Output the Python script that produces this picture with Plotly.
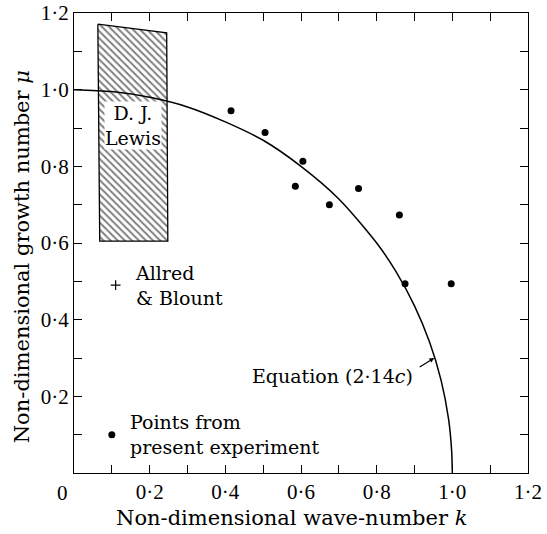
import plotly.graph_objects as go

# Experimental points (k, mu)
exp_k = [0.415, 0.505, 0.605, 0.585, 0.675, 0.752, 0.86, 0.875, 0.997]
exp_mu = [0.945, 0.888, 0.813, 0.748, 0.700, 0.742, 0.673, 0.494, 0.494]

# Equation (2.14c) curve
curve_k = [0.0, 0.1, 0.2, 0.3, 0.4, 0.5, 0.6, 0.7, 0.8, 0.85, 0.9, 0.94, 0.97, 0.99, 0.998, 1.0]
curve_mu = [1.0, 0.995, 0.98, 0.955, 0.916, 0.868, 0.80, 0.715, 0.60, 0.527, 0.436, 0.341, 0.243, 0.141, 0.06, 0.0]

# D. J. Lewis hatched region (corners)
lewis_k = [0.063, 0.245, 0.248, 0.068, 0.063]
lewis_mu = [1.171, 1.148, 0.605, 0.605, 1.171]

# Allred & Blount
allred_k = [0.11]
allred_mu = [0.49]

# Legend dot
legend_k = [0.10]
legend_mu = [0.10]

tick_vals = [0.0, 0.1, 0.2, 0.3, 0.4, 0.5, 0.6, 0.7, 0.8, 0.9, 1.0, 1.1, 1.2]
x_tick_text = ["", "", "0·2", "", "0·4", "", "0·6", "", "0·8", "", "1·0", "", "1·2"]
y_tick_text = ["", "", "0·2", "", "0·4", "", "0·6", "", "0·8", "", "1·0", "", "1·2"]

SERIF = "Liberation Serif"
TSERIF = "DejaVu Serif"

fig = go.Figure()

fig.add_trace(go.Scatter(
    x=lewis_k, y=lewis_mu, mode="lines", fill="toself",
    fillcolor="white",
    fillpattern=dict(shape="\\", size=5, solidity=0.4, fgcolor="black", bgcolor="white"),
    line=dict(color="black", width=1.3), hoverinfo="skip", showlegend=False))

fig.add_trace(go.Scatter(
    x=curve_k, y=curve_mu, mode="lines",
    line=dict(color="black", width=1.5, shape="spline", smoothing=0.8),
    showlegend=False))

fig.add_trace(go.Scatter(
    x=exp_k, y=exp_mu, mode="markers",
    marker=dict(color="black", size=7), showlegend=False))

fig.add_trace(go.Scatter(
    x=legend_k, y=legend_mu, mode="markers",
    marker=dict(color="black", size=7), showlegend=False))

fig.add_trace(go.Scatter(
    x=allred_k, y=allred_mu, mode="markers",
    marker=dict(color="black", size=7, symbol="cross-thin", line=dict(color="black", width=1.2)),
    showlegend=False))

ann_font = dict(family=TSERIF, size=19, color="black")
title_font = dict(family=TSERIF, size=21, color="black")

fig.add_annotation(x=0.155, y=0.906, text="D. J.<br>Lewis", showarrow=False,
                   font=ann_font, bgcolor="white", borderpad=0, align="center")
fig.add_annotation(x=0.156, y=0.49, text="Allred<br>& Blount", showarrow=False,
                   font=ann_font, xanchor="left", align="left")
fig.add_annotation(x=0.143, y=0.10, text="Points from<br>present experiment", showarrow=False,
                   font=ann_font, xanchor="left", align="left")
fig.add_annotation(x=0.902, y=0.254, text="Equation (2·14<i>c</i>)", showarrow=False,
                   font=ann_font, xanchor="right", align="right")
fig.add_annotation(x=0.952, y=0.30, text="", showarrow=True, ax=-16, ay=10,
                   arrowhead=2, arrowsize=0.8, arrowwidth=1.2, arrowcolor="black")
fig.add_annotation(x=0, y=0, xref="x", yref="paper", text="0", showarrow=False,
                   font=dict(family=SERIF, size=21, color="black"),
                   xshift=-12, yshift=-6, yanchor="top")

# Axis titles
fig.add_annotation(x=0.478, y=0, xref="paper", yref="paper", yanchor="middle",
                   yshift=-45, text="Non-dimensional wave-number <i>k</i>",
                   showarrow=False, font=title_font)
fig.add_annotation(x=0, y=0.469, xref="paper", yref="paper", xanchor="center",
                   xshift=-52, text="Non-dimensional growth number <i>μ</i>",
                   textangle=-90, showarrow=False, font=title_font)

axis_common = dict(
    tickvals=tick_vals, ticks="inside", ticklen=8, tickwidth=1.2, tickcolor="black",
    showline=True, linecolor="black", linewidth=1.3, mirror="ticks",
    showgrid=False, zeroline=False, range=[0, 1.2],
    tickfont=dict(family=SERIF, size=21, color="black"),
    ticklabeloverflow="allow", automargin=False,
)

fig.update_xaxes(**axis_common, ticktext=x_tick_text)
fig.update_yaxes(**axis_common, ticktext=y_tick_text)

fig.update_layout(
    width=547, height=534,
    margin=dict(l=74, r=19, t=13, b=61),
    plot_bgcolor="white", paper_bgcolor="white",
    showlegend=False,
)

fig.write_html("out.html")
